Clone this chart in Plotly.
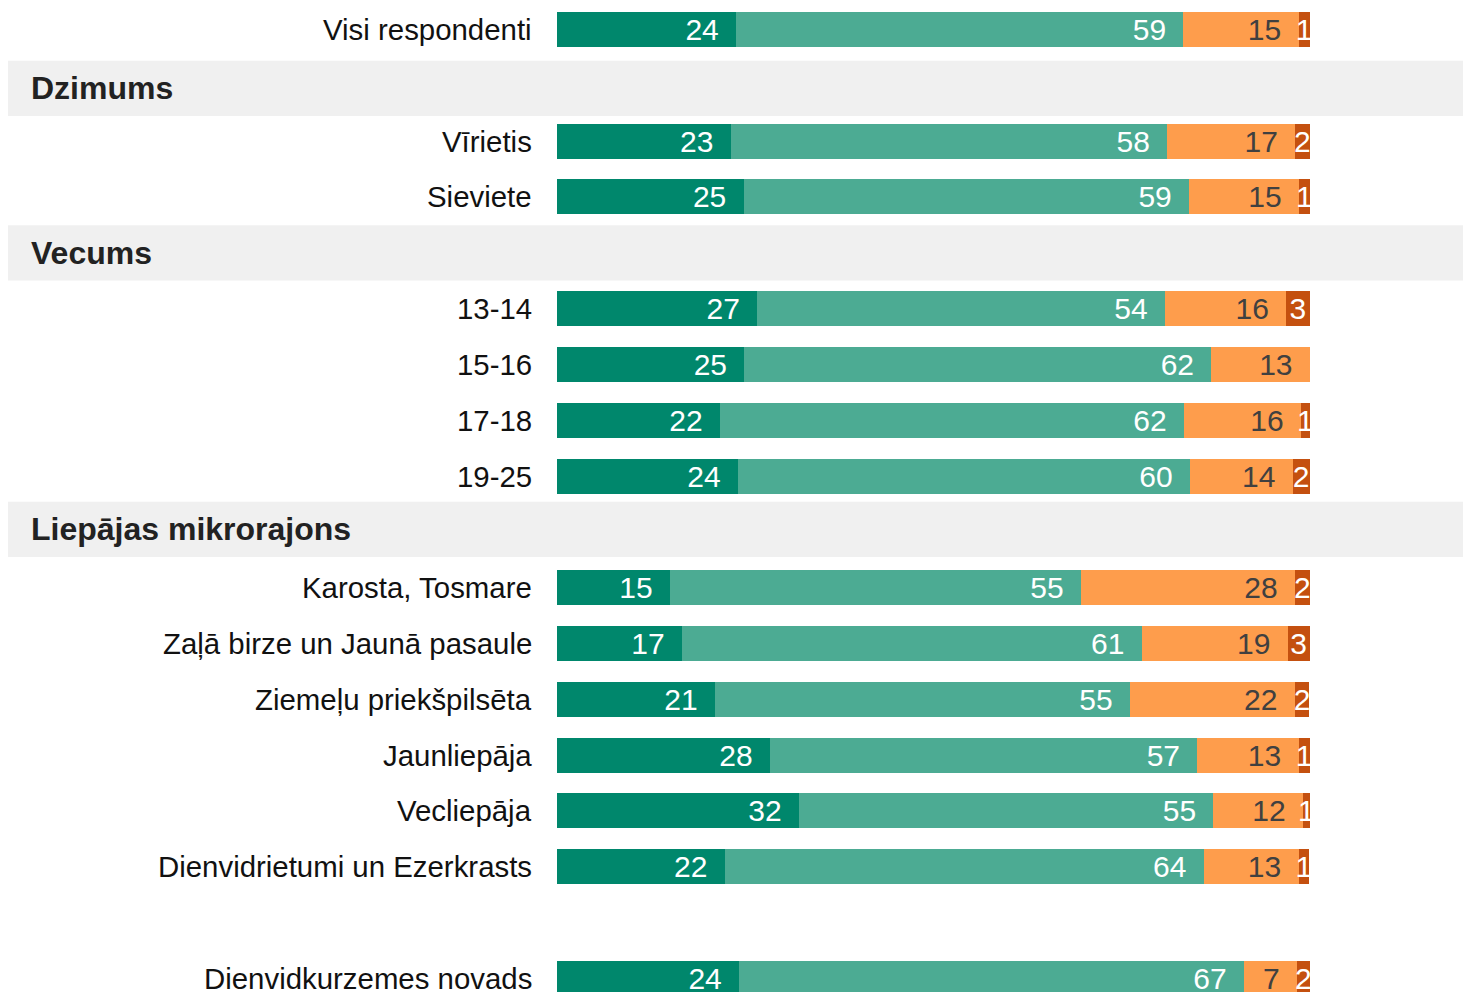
import plotly.graph_objects as go

# ---- data -------------------------------------------------------------
row_labels = [
    "Visi respondenti",
    "Dzimums",
    "Vīrietis",
    "Sieviete",
    "Vecums",
    "13-14",
    "15-16",
    "17-18",
    "19-25",
    "Liepājas mikrorajons",
    "Karosta, Tosmare",
    "Zaļā birze un Jaunā pasaule",
    "Ziemeļu priekšpilsēta",
    "Jaunliepāja",
    "Vecliepāja",
    "Dienvidrietumi un Ezerkrasts",
    "",
    "Dienvidkurzemes novads",
]
header_labels = ["Dzimums", "Vecums", "Liepājas mikrorajons"]

categories = [
    "Visi respondenti", "Vīrietis", "Sieviete",
    "13-14", "15-16", "17-18", "19-25",
    "Karosta, Tosmare", "Zaļā birze un Jaunā pasaule", "Ziemeļu priekšpilsēta",
    "Jaunliepāja", "Vecliepāja", "Dienvidrietumi un Ezerkrasts",
    "Dienvidkurzemes novads",
]
series_1 = [23.8, 23.1, 24.8, 26.6, 24.9, 21.66, 24.05, 15.02, 16.6, 21.0, 28.3, 32.16, 22.3, 24.2]
series_2 = [59.45, 58.0, 59.2, 54.2, 62.06, 61.66, 60.07, 54.62, 61.1, 55.15, 56.8, 55.08, 63.65, 67.1]
series_3 = [15.3, 17.0, 14.6, 16.1, 13.09, 15.55, 13.65, 28.44, 19.4, 21.9, 13.45, 11.9, 12.6, 7.04]
series_4 = [1.45, 1.93, 1.4, 3.1, 0.0, 1.13, 2.23, 1.93, 2.9, 1.93, 1.45, 0.86, 1.4, 1.66]

# ---- styling ----------------------------------------------------------
FONT = "Liberation Sans, Arial, sans-serif"
colors = ["#00876c", "#4cab93", "#fe9d4c", "#c4500f"]
text_colors = ["#ffffff", "#ffffff", "#404040", "#ffffff"]
anchors = ["end", "end", "end", "middle"]
pads = ["\u00a0\u2009", "\u00a0\u2009", "\u00a0\u2009", ""]
band_shift = {"Dzimums": 0.055, "Vecums": 0.0, "Liepājas mikrorajons": -0.045}

row_pos = {lab: i for i, lab in enumerate(row_labels) if lab}
y_bars = [row_pos[c] for c in categories]

fig = go.Figure()
for vals, col, tcol, anc, pad in zip([series_1, series_2, series_3, series_4],
                                     colors, text_colors, anchors, pads):
    texts = [f"{v:.0f}" if v > 0 else "" for v in vals]
    fig.add_trace(go.Bar(
        x=vals, y=y_bars, orientation="h",
        marker=dict(color=col, line=dict(width=0)),
        width=0.627,
        text=texts, texttemplate="%{text}" + pad,
        textposition="inside", insidetextanchor=anc, constraintext="none",
        textangle=0,
        textfont=dict(size=30, color=tcol, family=FONT),
        hoverinfo="skip", showlegend=False,
    ))

W, H = 1463, 984
ROW = 55.82
shapes = []
annotations = []
for i, lab in enumerate(row_labels):
    if not lab:
        continue
    if lab in header_labels:
        c = i + band_shift[lab]
        shapes.append(dict(type="rect", xref="paper", yref="y", x0=0, x1=1.02,
                           y0=c - 0.495, y1=c + 0.495, fillcolor="#f0f0f0",
                           line=dict(width=0), layer="below"))
        annotations.append(dict(text=f"<b>{lab}</b>", xref="paper", yref="y",
                                x=21 / W, y=c, xanchor="left", yanchor="middle",
                                showarrow=False,
                                font=dict(size=32, color="#222222", family=FONT)))
    else:
        annotations.append(dict(text=lab, xref="paper", yref="y",
                                x=526 / W, y=i, xanchor="right", yanchor="middle",
                                showarrow=False,
                                font=dict(size=29.4, color="#111111", family=FONT)))

x_left = 549
fig.update_layout(
    barmode="stack",
    width=W, height=H,
    margin=dict(l=0, r=0, t=0, b=0),
    paper_bgcolor="white", plot_bgcolor="white",
    xaxis=dict(domain=[x_left / W, 1], range=[0, 100 * (W - x_left) / 752.5],
               visible=False, fixedrange=True),
    yaxis=dict(range=[-21.5 / ROW + H / ROW, -21.5 / ROW], visible=False,
               fixedrange=True),
    shapes=shapes,
    annotations=annotations,
    showlegend=False,
)

fig.write_html("out.html")
